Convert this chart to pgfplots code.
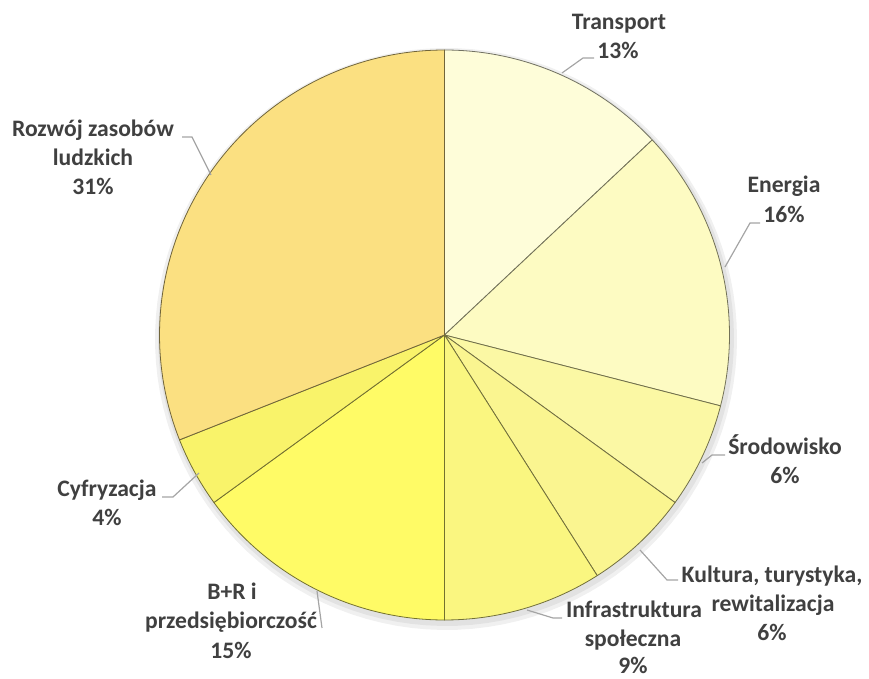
\documentclass[border=0pt]{standalone}
\usepackage{pgfplots}
\pgfplotsset{compat=1.18}
\usepackage{fontspec}
\setmainfont{Carlito}

\definecolor{cTransport}{HTML}{FEFDD9}
\definecolor{cEnergia}{HTML}{FDFBC2}
\definecolor{cSrod}{HTML}{FBF8A4}
\definecolor{cKultura}{HTML}{FAF590}
\definecolor{cInfra}{HTML}{FAF680}
\definecolor{cBR}{HTML}{FFFB66}
\definecolor{cCyfr}{HTML}{F9F36A}
\definecolor{cRozwoj}{HTML}{FBE081}
\definecolor{labelgray}{HTML}{404040}
\definecolor{leadgray}{HTML}{A5A5A5}

\begin{document}
\begin{tikzpicture}[
    lbl/.style={font=\fontsize{23.7}{29}\selectfont\bfseries, text=labelgray, anchor=base, inner sep=0pt},
    lead/.style={draw=leadgray, line width=1.2bp}]
\begin{axis}[
    scale only axis,
    width=869bp, height=679bp,
    xmin=0, xmax=869, ymin=0, ymax=679,
    hide axis, clip=false]
% soft shadow under the pie
\addplot[draw=none, fill=black, opacity=0.06, domain=0:360, samples=120] ({446+291*cos(x)}, {340+291*sin(x)}) -- cycle;
\addplot[draw=none, fill=black, opacity=0.06, domain=0:360, samples=120] ({446+288*cos(x)}, {341+288*sin(x)}) -- cycle;
% slices, clockwise from the top: share in percent / colour
\pgfmathsetmacro{\acc}{90}
\pgfplotsforeachungrouped \v/\c in {13/cTransport,16/cEnergia,6/cSrod,6/cKultura,9/cInfra,15/cBR,4/cCyfr,31/cRozwoj}{
  \pgfmathsetmacro{\aend}{\acc-3.6*\v}
  \edef\doslice{\noexpand\addplot[fill=\c, draw=\c!45!black, line width=0.8bp, line join=round, domain=\aend:\acc, samples=90]
    ({444.5+285*cos(x)}, {344+285*sin(x)}) -- (axis cs:444.5,344) -- cycle;}
  \doslice
  \global\let\acc\aend
}
% leader lines (pixel coordinates, y measured upwards)
\draw[lead] (axis cs:562,606) -- (axis cs:583,621) -- (axis cs:594,621);
\draw[lead] (axis cs:725,412) -- (axis cs:750,456) -- (axis cs:760,456);
\draw[lead] (axis cs:702,216) -- (axis cs:712,224) -- (axis cs:725,224);
\draw[lead] (axis cs:640,129) -- (axis cs:667,99) -- (axis cs:678,99);
\draw[lead] (axis cs:527,69) -- (axis cs:553,61) -- (axis cs:562,61);
\draw[lead] (axis cs:317,88) -- (axis cs:322,51);
\draw[lead] (axis cs:199,206) -- (axis cs:173,182) -- (axis cs:162,182);
\draw[lead] (axis cs:211,504) -- (axis cs:192,542) -- (axis cs:182,542);
% labels
\node[lbl] at (axis cs:619,649) {Transport};
\node[lbl] at (axis cs:618,620) {13\%};
\node[lbl] at (axis cs:784,486) {Energia};
\node[lbl] at (axis cs:784,456) {16\%};
\node[lbl] at (axis cs:785,224) {Środowisko};
\node[lbl] at (axis cs:785,195) {6\%};
\node[lbl] at (axis cs:772,96) {Kultura, turystyka,};
\node[lbl] at (axis cs:773,67) {rewitalizacja};
\node[lbl] at (axis cs:772,38) {6\%};
\node[lbl] at (axis cs:634,61) {Infrastruktura};
\node[lbl] at (axis cs:633,32) {społeczna};
\node[lbl] at (axis cs:633,6) {9\%};
\node[lbl] at (axis cs:232,79) {B+R i};
\node[lbl] at (axis cs:231,50) {przedsiębiorczość};
\node[lbl] at (axis cs:231,21) {15\%};
\node[lbl] at (axis cs:107,182) {Cyfryzacja};
\node[lbl] at (axis cs:107,153) {4\%};
\node[lbl] at (axis cs:93,542) {Rozwój zasobów};
\node[lbl] at (axis cs:93,513) {ludzkich};
\node[lbl] at (axis cs:93,484) {31\%};
\end{axis}
\pgfresetboundingbox
\useasboundingbox (0,0) rectangle (869bp,679bp);
\end{tikzpicture}
\end{document}
